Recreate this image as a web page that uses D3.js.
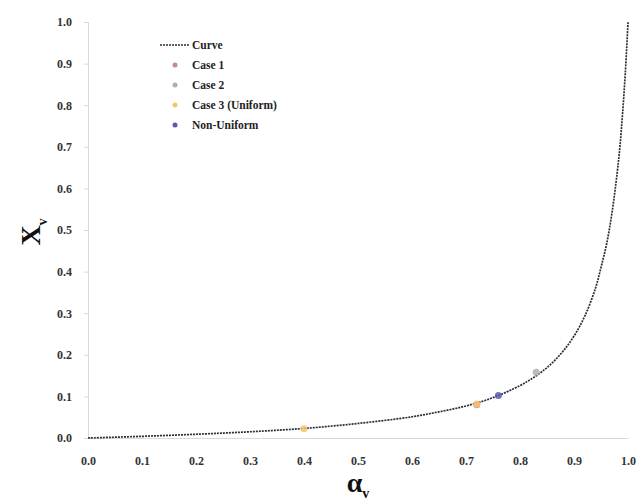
<!DOCTYPE html>
<html>
<head>
<meta charset="utf-8">
<script src="https://cdn.jsdelivr.net/npm/d3@7"></script>
<style>
  body { margin: 0; background: #fff; }
  text { font-family: "Liberation Serif", "DejaVu Serif", serif; font-weight: bold; }
</style>
</head>
<body>
<svg id="chart" width="640" height="501"></svg>
<script>
// curve (alpha_v, X_v)
const curveAlpha = [0, 0.1, 0.2, 0.3, 0.4, 0.5, 0.6, 0.65, 0.7, 0.75, 0.8, 0.82, 0.84, 0.86, 0.88, 0.9, 0.92, 0.94, 0.95, 0.96, 0.97, 0.98, 0.985, 0.99, 0.995, 1.0];
const curveX     = [0, 0.004, 0.009, 0.015, 0.023, 0.035, 0.051, 0.063, 0.077, 0.097, 0.126, 0.141, 0.159, 0.181, 0.209, 0.245, 0.293, 0.361, 0.41, 0.464, 0.538, 0.638, 0.70, 0.781, 0.877, 1.0];

// marker series
const seriesNames  = ["Case 1", "Case 2", "Case 3 (Uniform)", "Non-Uniform"];
const seriesColors = ["#c98a8a", "#a9b4a6", "#f6c46a", "#5a5aa8"];
const seriesAlpha  = [[0.72], [0.83], [0.40, 0.72], [0.76]];
const seriesX      = [[0.080], [0.158], [0.022, 0.082], [0.102]];

const xTicks = [0, 0.1, 0.2, 0.3, 0.4, 0.5, 0.6, 0.7, 0.8, 0.9, 1.0];
const yTicks = [0, 0.1, 0.2, 0.3, 0.4, 0.5, 0.6, 0.7, 0.8, 0.9, 1.0];

let svg = d3.select('#chart');
let margin = {left: 88, right: 12, top: 22, bottom: 63};
let width = 640 - margin.left - margin.right;
let height = 501 - margin.top - margin.bottom;

let x = d3.scaleLinear().domain([0, 1]).range([0, width]);
let y = d3.scaleLinear().domain([0, 1]).range([height, 0]);

let g = svg.append('g').attr('transform', 'translate(' + margin.left + ',' + margin.top + ')');

//坐标轴
let xAxis = g.append('g')
    .attr('transform', 'translate(0,' + height + ')')
    .call(d3.axisBottom(x).tickValues(xTicks).tickFormat(d3.format('.1f')).tickSize(0).tickPadding(18));
let yAxis = g.append('g')
    .call(d3.axisLeft(y).tickValues(yTicks).tickFormat(d3.format('.1f')).tickSize(4).tickPadding(12));
[xAxis, yAxis].forEach(a => {
    a.select('.domain').attr('stroke', '#d9d9d9');
    a.selectAll('.tick line').attr('stroke', '#d9d9d9');
    a.selectAll('.tick text').attr('fill', '#333').style('font-size', '12px');
});

//曲线
let line = d3.line()
    .x((d, i) => x(curveAlpha[i]))
    .y((d, i) => y(curveX[i]))
    .curve(d3.curveCatmullRom);
g.append('path')
    .datum(curveAlpha)
    .attr('d', line)
    .attr('fill', 'none')
    .attr('stroke', '#2b2b3a')
    .attr('stroke-width', 1.7)
    .attr('stroke-dasharray', '2,1');

//数据点
seriesNames.forEach((name, k) => {
    g.selectAll('circle.s' + k)
        .data(seriesAlpha[k])
        .enter()
        .append('circle')
        .attr('class', 's' + k)
        .attr('cx', d => x(d))
        .attr('cy', (d, i) => y(seriesX[k][i]))
        .attr('r', 3.5)
        .attr('fill', seriesColors[k])
        .attr('opacity', 0.85);
});

//图例
let legend = svg.append('g').attr('transform', 'translate(160,45)');
legend.append('line')
    .attr('x1', 0).attr('x2', 30).attr('y1', 0).attr('y2', 0)
    .attr('stroke', '#2b2b3a').attr('stroke-width', 1.4).attr('stroke-dasharray', '2,1');
legend.append('text').attr('x', 32).attr('y', 4).style('font-size', '11.5px').attr('fill', '#222').text('Curve');
seriesNames.forEach((name, k) => {
    let row = legend.append('g').attr('transform', 'translate(0,' + (20 * (k + 1)) + ')');
    row.append('circle').attr('cx', 15).attr('cy', 0).attr('r', 2.5).attr('fill', seriesColors[k]);
    row.append('text').attr('x', 32).attr('y', 4).style('font-size', '11.5px').attr('fill', '#222').text(name);
});

//坐标轴标题
let yTitle = svg.append('text')
    .attr('transform', 'translate(40,232) rotate(-90)')
    .attr('text-anchor', 'middle')
    .style('font-size', '28px')
    .attr('fill', '#111');
yTitle.append('tspan').text('X');
yTitle.append('tspan').attr('dy', 7).style('font-size', '14px').text('v');

let xTitle = svg.append('text')
    .attr('x', 358).attr('y', 492)
    .attr('text-anchor', 'middle')
    .style('font-size', '28px')
    .attr('fill', '#111');
xTitle.append('tspan').text('α');
xTitle.append('tspan').attr('dy', 6).style('font-size', '14px').text('v');
</script>
</body>
</html>
